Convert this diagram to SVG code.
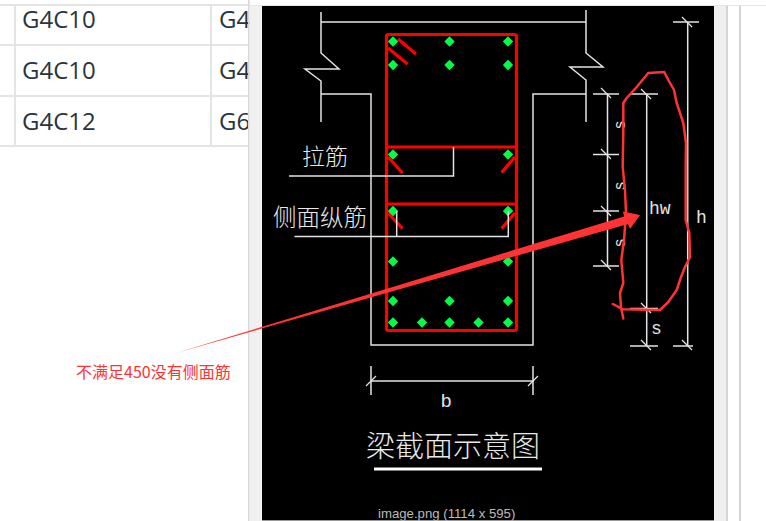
<svg xmlns="http://www.w3.org/2000/svg" width="766" height="521" viewBox="0 0 766 521">
<style>
.g{stroke:#e4e4e4;stroke-width:2;fill:none}
.w{stroke:#e4e4e4;stroke-width:1.5;fill:none}
.r{stroke:#f00;stroke-width:3.2;fill:none}
.cell{font:24px "Open Sans","Noto Sans",sans-serif;fill:#2a3440}
.cjk{font-family:"Noto Sans CJK SC",sans-serif;font-weight:300;fill:#e8e8e8}
.cad{font-family:"Liberation Mono",monospace;fill:#e4e4e4}
</style>
<defs>
<path id="d" d="M0-5.200 5.200 0 0 5.200-5.200 0Z" fill="#0f4"/>
<path id="t" d="M-5-5 5 5" stroke="#e4e4e4" stroke-width="1.200"/>
</defs>
<rect width="766" height="521" fill="#fff"/>
<g id="table">
<path class="g" d="M0 5H248M0 45H248M0 96H248M0 146H248M15 5V146M211 5V146"/>
<text class="cell" x="22" y="28">G4C10</text>
<text class="cell" x="219" y="28">G4</text>
<text class="cell" x="22" y="79">G4C10</text>
<text class="cell" x="219" y="79">G4</text>
<text class="cell" x="22" y="130">G4C12</text>
<text class="cell" x="219" y="130">G6</text>
</g>
<g id="frame">
<rect x="248" y="0" width="1.600" height="521" fill="#d8d8d8"/>
<rect x="249.600" y="6" width="12" height="515" fill="#f0f0f0"/>
<rect x="262" y="6" width="452" height="515" fill="#000"/>
<rect x="714" y="6" width="13" height="515" fill="#f0f0f0"/>
<rect x="726" y="6" width="2" height="515" fill="#d4d4d4"/>
<rect x="739" y="6" width="2" height="515" fill="#d4d4d4"/>
<rect x="249" y="5" width="517" height="1" fill="#e6e6e6"/>
<rect x="262" y="520" width="452" height="1" fill="#999"/>
</g>
<g id="beam-outline">
<path class="w" d="M321 22H586M321 12V53L339 69H305L321 81V122M321 94H371V345H533V94H586M586 10V53L603 67H570L586 80V122"/>
</g>
<g id="rebar">
<rect class="r" x="386.500" y="34.500" width="130" height="296" rx="2"/>
<path class="r" d="M386 147H517M386 204H517M398 39 416 54M388 48 407.500 64M388 157 402.500 173M515 157 501.500 172.500M388 213 402.500 228.500M515 213 501.500 228.500"/>
<use href="#d" x="393" y="41.500"/><use href="#d" x="449.500" y="41.500"/><use href="#d" x="508" y="41.500"/>
<use href="#d" x="393" y="65"/><use href="#d" x="449.500" y="65"/><use href="#d" x="508" y="65"/>
<use href="#d" x="393" y="154.500"/><use href="#d" x="508" y="154.500"/>
<use href="#d" x="393" y="211"/><use href="#d" x="508" y="211"/>
<use href="#d" x="393" y="261.500"/><use href="#d" x="508" y="261.500"/>
<use href="#d" x="393" y="301"/><use href="#d" x="449.500" y="301"/><use href="#d" x="508" y="301"/>
<use href="#d" x="393" y="322.500"/><use href="#d" x="422" y="322.500"/><use href="#d" x="449.500" y="322.500"/><use href="#d" x="478.500" y="322.500"/><use href="#d" x="508" y="322.500"/>
</g>
<g id="connectors">
<path class="w" d="M453.500 147V176H289M396.700 211V236.500M508.300 211V236.500H294.500"/>
<path class="w" d="M593 94H619M593 154.500H619M593 211H619M593 266H619M607.500 94V266M630 94H658M630 308.500H658M630 346H658M646.700 94V346M673 22H699M673 346H693M687.700 22V346M371 381H533M371 366V395M533 366V395"/>
<use href="#t" x="606" y="93"/><use href="#t" x="606" y="154"/><use href="#t" x="606" y="211"/><use href="#t" x="606" y="265"/>
<use href="#t" x="646" y="94"/><use href="#t" x="646" y="308"/><use href="#t" x="646" y="345"/>
<use href="#t" x="687" y="22"/><use href="#t" x="687" y="345"/>
<use href="#t" x="371" y="381" transform="rotate(90 371 381)"/><use href="#t" x="533" y="381" transform="rotate(90 533 381)"/>
</g>
<g id="labels">
<text class="cjk" x="302" y="165" font-size="23">拉筋</text>
<text class="cjk" x="273" y="226" font-size="23.500">侧面纵筋</text>
<text class="cjk" x="366" y="457" font-size="29">梁截面示意图</text>
<rect x="374" y="467.500" width="168" height="3" fill="#fff"/>
<text class="cad" font-size="19" x="440.500" y="407">b</text>
<text class="cad" font-size="18" x="649" y="214">hw</text>
<text class="cad" font-size="18" x="696" y="223">h</text>
<text class="cad" font-size="18" x="651" y="334">s</text>
<text class="cad" font-size="16" transform="translate(625 125) rotate(-90)" text-anchor="middle">s</text>
<text class="cad" font-size="16" transform="translate(625 186) rotate(-90)" text-anchor="middle">s</text>
<text class="cad" font-size="16" transform="translate(625 243) rotate(-90)" text-anchor="middle">s</text>
<text x="378" y="518" font-family="'Liberation Sans',sans-serif" font-size="13.200" fill="#bbb">image.png (1114 x 595)</text>
</g>
<g id="markup">
<path d="M648.300 73 664.300 72 668.300 80 674 90 676.700 103 683.300 123 686 143 685.700 167 685.700 220 689.300 233 690 257 685 267 681 277 676.700 290 668.300 302 660 310 623.300 309.300 612.700 304M623.300 318.500 621 307 620 293 623.300 283 621.300 260 624 240 626 213 625 190 622.700 167 623.300 133 623.300 103 626.700 98 636.700 87 648.300 73" fill="none" stroke="#f33" stroke-width="2.500" stroke-linejoin="round" stroke-linecap="round"/>
<path d="M176 353 624 216.500 623 211.500 640 215 630 229 628 224Z" fill="#f33"/>
<text x="76" y="378" font-family="'Noto Sans CJK SC',sans-serif" font-size="16" fill="#f33">不满足450没有侧面筋</text>
</g>
</svg>
